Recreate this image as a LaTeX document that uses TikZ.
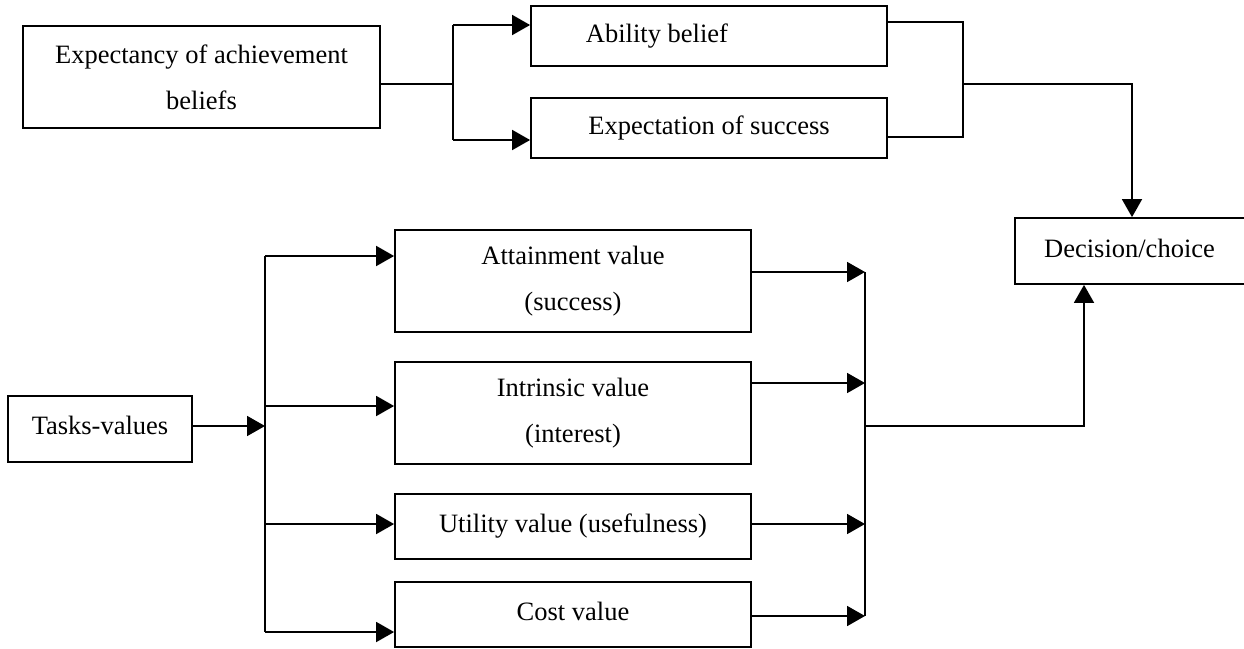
\documentclass[tikz,border=0pt]{standalone}
\usepackage{fontspec}
\setmainfont{Liberation Serif}
\usetikzlibrary{arrows.meta,calc}
\begin{document}
\begin{tikzpicture}[x=1pt,y=-1pt,
  box/.style={draw, line width=1.8pt, inner sep=0pt, font=\fontsize{26.5}{46}\selectfont},
  twoline/.style={box, align=center},
  link/.style={line width=1.8pt},
  arr/.style={link, -{Triangle[length=18pt,width=20pt]}}]
\useasboundingbox (0,0) rectangle (1244,648);
\clip (0,0) rectangle (1244,648);
\fill[white] (0,0) rectangle (1244,648);
% top group
\node[twoline, minimum width=357pt, minimum height=102pt] (exp) at (201.5,77) {Expectancy of achievement\\beliefs};
\node[box, minimum width=356pt, minimum height=60pt] (abil) at (709,36) {\raisebox{4pt}{Ability belief}\hspace*{104pt}};
\node[box, minimum width=356pt, minimum height=60pt] (expn) at (709,128) {\raisebox{2pt}{Expectation of success}};
\node[box, minimum width=285pt, minimum height=66pt] (dec) at (1157.5,251) {\raisebox{6pt}{Decision/choice}\hspace*{56pt}};
% bottom group
\node[box, minimum width=184pt, minimum height=66pt] (tasks) at (100,429) {\raisebox{7pt}{Tasks-values}};
\node[twoline, minimum width=356pt, minimum height=102pt] (att) at (573,281) {Attainment value\\(success)};
\node[twoline, minimum width=356pt, minimum height=102pt] (intr) at (573,413) {Intrinsic value\\(interest)};
\node[box, minimum width=356pt, minimum height=65pt] (util) at (573,526.5) {\raisebox{5.5pt}{Utility value (usefulness)}};
\node[box, minimum width=356pt, minimum height=65pt] (cost) at (573,614.5) {\raisebox{6.5pt}{Cost value}};
% junctions
\coordinate (j1) at (453,84);
\coordinate (j1a) at (453,25);
\coordinate (j1b) at (453,140);
\coordinate (j2a) at (963,22);
\coordinate (j2b) at (963,137);
\coordinate (j2) at (963,84);
\coordinate (j2c) at (1132,84);
\coordinate (t0) at (265,426);
\coordinate (t1) at (265,256);
\coordinate (t2) at (265,406);
\coordinate (t3) at (265,524);
\coordinate (t4) at (265,632);
\coordinate (c1) at (865,272);
\coordinate (c2) at (865,383);
\coordinate (c3) at (865,524);
\coordinate (c4) at (865,616);
\coordinate (c0) at (865,426);
\coordinate (c5) at (1084,426);
% top connectors
\draw[link] (exp.east |- j1) -- (j1);
\draw[link] (j1a) -- (j1b);
\draw[arr] (j1a) -- (abil.west |- j1a);
\draw[arr] (j1b) -- (expn.west |- j1b);
\draw[link] (abil.east |- j2a) -- (j2a) -- (j2b) -- (expn.east |- j2b);
\draw[arr] (j2) -- (j2c) -- (j2c |- dec.north);
% bottom-left connectors
\draw[arr] (tasks.east |- t0) -- (t0);
\draw[link] (t1) -- (t4);
\draw[arr] (t1) -- (att.west |- t1);
\draw[arr] (t2) -- (intr.west |- t2);
\draw[arr] (t3) -- (util.west |- t3);
\draw[arr] (t4) -- (cost.west |- t4);
% bottom-right connectors
\draw[arr] (att.east |- c1) -- (c1);
\draw[arr] (intr.east |- c2) -- (c2);
\draw[arr] (util.east |- c3) -- (c3);
\draw[arr] (cost.east |- c4) -- (c4);
\draw[link] (c1) -- (c4);
\draw[arr] (c0) -- (c5) -- (c5 |- dec.south);
\end{tikzpicture}
\end{document}
